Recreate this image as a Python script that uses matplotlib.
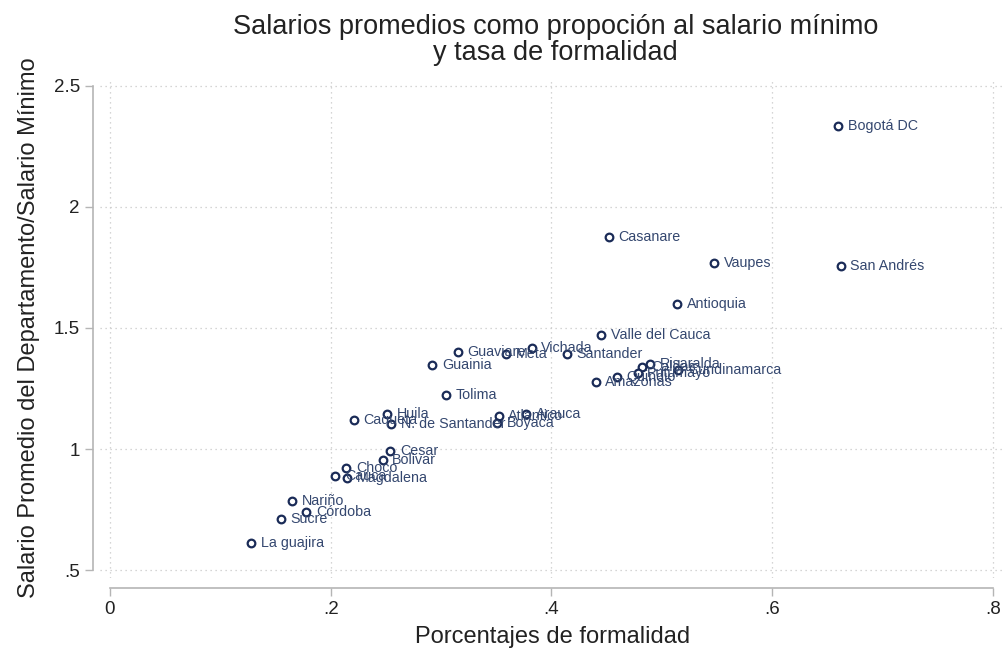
import matplotlib.pyplot as plt
import numpy as np

# datos por departamento
deptos = ['Bogotá DC', 'Casanare', 'Vaupes', 'San Andrés', 'Antioquia', 'Valle del Cauca',
          'Vichada', 'Guaviare', 'Meta', 'Santander', 'Guainia', 'Tolima',
          'Risaralda', 'Caldas', 'Quindio', 'Putumayo', 'Cundinamarca', 'Amazonas',
          'Arauca', 'Atlantico', 'Boyaca', 'Huila', 'N. de Santander', 'Caqueta',
          'Cesar', 'Bolivar', 'Choco', 'Cauca', 'Magdalena',
          'Nariño', 'Córdoba', 'Sucre', 'La guajira']
formalidad = [0.660, 0.452, 0.547, 0.662, 0.514, 0.445,
              0.382, 0.315, 0.359, 0.414, 0.292, 0.304,
              0.489, 0.482, 0.459, 0.478, 0.515, 0.440,
              0.377, 0.352, 0.351, 0.251, 0.255, 0.221,
              0.254, 0.247, 0.214, 0.204, 0.215,
              0.165, 0.178, 0.155, 0.128]
salario = [2.335, 1.876, 1.769, 1.756, 1.599, 1.471,
           1.417, 1.401, 1.393, 1.393, 1.347, 1.223,
           1.351, 1.339, 1.298, 1.314, 1.326, 1.277,
           1.145, 1.136, 1.107, 1.145, 1.103, 1.120,
           0.992, 0.955, 0.921, 0.888, 0.880,
           0.785, 0.740, 0.711, 0.612]

azul = '#1a2b57'
gris = '#b5b5b5'

plt.rcParams['font.family'] = ['Liberation Sans', 'DejaVu Sans']

fig = plt.figure(figsize=(10.08, 6.56), dpi=100)
ax = fig.add_axes([100/1008, 1-578/656, 905/1008, 500/656])

ax.plot(formalidad, salario, 'o', ms=5.5, mfc='white', mec=azul, mew=1.6, zorder=3)
for n, xx, yy in zip(deptos, formalidad, salario):
    ax.annotate(n, (xx, yy), xytext=(7, 0), textcoords='offset points',
                va='center', ha='left', fontsize=10.3, color='#34476f', zorder=4)

ax.set_xlim(-0.00906, 0.8109)
ax.set_ylim(0.467, 2.533)
ax.set_xticks([0, .2, .4, .6, .8])
ax.set_xticklabels(['0', '.2', '.4', '.6', '.8'])
ax.set_yticks([.5, 1, 1.5, 2, 2.5])
ax.set_yticklabels(['.5', '1', '1.5', '2', '2.5'])
ax.tick_params(labelsize=13.5, colors='#222222', length=6, width=1)
ax.tick_params(axis='both', color=gris)

for s in ['top', 'right']:
    ax.spines[s].set_visible(False)
ax.spines['left'].set_position(('outward', 5))
ax.spines['bottom'].set_position(('outward', 7))
ax.spines['left'].set_bounds(0.5, 2.5)
ax.spines['bottom'].set_bounds(0, 0.8)
for s in ['left', 'bottom']:
    ax.spines[s].set_color(gris)
    ax.spines[s].set_linewidth(1.2)

ax.grid(True, ls=(0, (1, 3)), color='#c8c8c8', lw=0.9)
ax.set_axisbelow(True)

ax.set_xlabel('Porcentajes de formalidad', fontsize=17, color='#222222', labelpad=6)
ax.set_ylabel('Salario Promedio del Departamento/Salario Mínimo', fontsize=17,
              color='#222222', labelpad=10)
fig.text(0.551, 0.979, 'Salarios promedios como propoción al salario mínimo\ny tasa de formalidad',
         ha='center', va='top', fontsize=19.5, color='#222222', linespacing=1.02)

plt.savefig('out.png', dpi=100)
